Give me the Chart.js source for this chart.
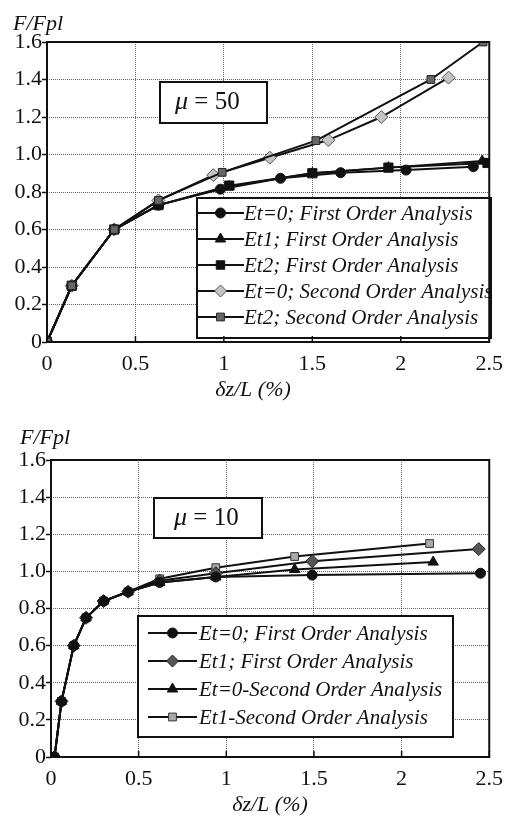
<!DOCTYPE html>
<html>
<head>
<meta charset="utf-8">
<script src="https://cdn.jsdelivr.net/npm/chart.js@4.4.1/dist/chart.umd.min.js"></script>
<style>
  html, body { margin: 0; padding: 0; background: #fff; }
  #wrap { position: relative; width: 512px; height: 817px; }
  canvas { position: absolute; left: 0; }
</style>
</head>
<body>
<div id="wrap">
  <canvas id="chartTop" width="512" height="408" style="top:0"></canvas>
  <canvas id="chartBottom" width="512" height="409" style="top:408px"></canvas>
</div>
<script>
// ---- ticks ----
const xTicks = [0, 0.5, 1, 1.5, 2, 2.5];
const xTickLabels = ['0', '0.5', '1', '1.5', '2', '2.5'];
const yTicks = [0, 0.2, 0.4, 0.6, 0.8, 1.0, 1.2, 1.4, 1.6];
const yTickLabels = ['0', '0.2', '0.4', '0.6', '0.8', '1.0', '1.2', '1.4', '1.6'];

// ---- mu = 50 ----
const mu50Names = [
  'Et=0; First Order Analysis',
  'Et1; First Order Analysis',
  'Et2; First Order Analysis',
  'Et=0; Second Order Analysis',
  'Et2; Second Order Analysis'
];
const mu50Et0FirstX = [0, 0.14, 0.38, 0.63, 0.98, 1.32, 1.66, 2.03, 2.41];
const mu50Et0FirstY = [0, 0.30, 0.60, 0.73, 0.815, 0.873, 0.903, 0.917, 0.935];
const mu50Et1FirstX = [0, 0.14, 0.38, 0.63, 1.03, 1.50, 1.93, 2.46];
const mu50Et1FirstY = [0, 0.30, 0.60, 0.73, 0.83, 0.90, 0.93, 0.965];
const mu50Et2FirstX = [0, 0.14, 0.38, 0.63, 1.03, 1.50, 1.93, 2.49];
const mu50Et2FirstY = [0, 0.30, 0.60, 0.73, 0.834, 0.90, 0.93, 0.955];
const mu50Et0SecondX = [0, 0.14, 0.38, 0.63, 0.94, 1.26, 1.59, 1.89, 2.27];
const mu50Et0SecondY = [0, 0.30, 0.60, 0.755, 0.89, 0.983, 1.077, 1.20, 1.41];
const mu50Et2SecondX = [0, 0.14, 0.38, 0.63, 0.99, 1.52, 2.17, 2.465];
const mu50Et2SecondY = [0, 0.30, 0.60, 0.755, 0.905, 1.074, 1.40, 1.60];

// ---- mu = 10 ----
const mu10Names = [
  'Et=0; First Order Analysis',
  'Et1; First Order Analysis',
  'Et=0-Second Order Analysis',
  'Et1-Second Order Analysis'
];
const mu10Et0FirstX = [0.02, 0.06, 0.13, 0.20, 0.30, 0.44, 0.62, 0.94, 1.49, 2.45];
const mu10Et0FirstY = [0, 0.30, 0.60, 0.75, 0.84, 0.89, 0.94, 0.97, 0.98, 0.99];
const mu10Et1FirstX = [0.02, 0.06, 0.13, 0.20, 0.30, 0.44, 0.62, 0.94, 1.49, 2.44];
const mu10Et1FirstY = [0, 0.30, 0.60, 0.75, 0.84, 0.89, 0.95, 0.99, 1.055, 1.12];
const mu10Et0SecondX = [0.02, 0.06, 0.13, 0.20, 0.30, 0.44, 0.62, 0.94, 1.39, 2.18];
const mu10Et0SecondY = [0, 0.30, 0.60, 0.75, 0.84, 0.89, 0.94, 0.97, 1.01, 1.05];
const mu10Et1SecondX = [0.02, 0.06, 0.13, 0.20, 0.30, 0.44, 0.62, 0.94, 1.39, 2.16];
const mu10Et1SecondY = [0, 0.30, 0.60, 0.75, 0.84, 0.89, 0.96, 1.02, 1.08, 1.15];

const SERIF = '"Liberation Serif", serif';

const toPoints = (xs, ys) => xs.map((x, i) => ({ x, y: ys[i] }));

const markers = {
  circle:   { pointStyle: 'circle',   radius: 5,   fill: '#111', border: '#111' },
  triangle: { pointStyle: 'triangle', radius: 6,   fill: '#111', border: '#111' },
  square:   { pointStyle: 'rect',     radius: 6.5, fill: '#111', border: '#111' },
  lightDia: { pointStyle: 'rectRot',  radius: 6.5, fill: '#c4c4c4', border: '#555' },
  darkSq:   { pointStyle: 'rect',     radius: 5.5, fill: '#666', border: '#222' },
  darkDia:  { pointStyle: 'rectRot',  radius: 6.5, fill: '#555', border: '#222' },
  lightSq:  { pointStyle: 'rect',     radius: 5.5, fill: '#aaa', border: '#333' }
};

// lower order is drawn on top
function makeDataset(label, xs, ys, m, order) {
  return {
    label,
    data: toPoints(xs, ys),
    order,
    showLine: true,
    borderColor: '#111',
    borderWidth: 2,
    pointStyle: m.pointStyle,
    pointRadius: m.radius,
    pointBackgroundColor: m.fill,
    pointBorderColor: m.border,
    pointBorderWidth: 1,
    tension: 0
  };
}

// draws the frame, inward x ticks, mu box, legend and axis titles
const decorPlugin = {
  id: 'decor',
  afterDatasetsDraw(chart, args, opts) {
    const ctx = chart.ctx;
    const area = chart.chartArea;
    const xs = chart.scales.x;
    ctx.save();

    // mu box
    const mb = opts.muBox;
    ctx.fillStyle = '#fff';
    ctx.fillRect(mb.x, mb.y, mb.w, mb.h);
    ctx.lineWidth = 2;
    ctx.strokeStyle = '#111';
    ctx.strokeRect(mb.x, mb.y, mb.w, mb.h);
    ctx.fillStyle = '#111';
    ctx.textBaseline = 'middle';
    ctx.textAlign = 'left';
    ctx.font = 'italic 26px ' + SERIF;
    ctx.fillText('\u03bc', mb.tx, mb.y + mb.h / 2);
    const muW = ctx.measureText('\u03bc').width;
    ctx.font = '25px ' + SERIF;
    ctx.fillText(' = ' + mb.value, mb.tx + muW, mb.y + mb.h / 2);

    // legend
    const lg = opts.legend;
    ctx.fillStyle = '#fff';
    ctx.fillRect(lg.x, lg.y, lg.w, lg.h);
    ctx.lineWidth = 2;
    ctx.strokeStyle = '#111';
    ctx.strokeRect(lg.x, lg.y, lg.w, lg.h);
    chart.data.datasets.forEach((ds, i) => {
      const y = lg.rowY + i * lg.rowH;
      ctx.lineWidth = 2;
      ctx.strokeStyle = '#111';
      ctx.beginPath();
      ctx.moveTo(lg.lineX1, y);
      ctx.lineTo(lg.lineX2, y);
      ctx.stroke();
      ctx.fillStyle = ds.pointBackgroundColor;
      ctx.strokeStyle = ds.pointBorderColor;
      ctx.lineWidth = 1;
      Chart.helpers.drawPoint(ctx, {
        pointStyle: ds.pointStyle, radius: Math.min(ds.pointRadius, 6), rotation: 0, borderWidth: 1
      }, (lg.lineX1 + lg.lineX2) / 2, y);
      ctx.fillStyle = '#111';
      ctx.font = 'italic ' + lg.font + 'px ' + SERIF;
      ctx.textAlign = 'left';
      ctx.textBaseline = 'middle';
      ctx.fillText(ds.label, lg.textX, y + 1);
    });

    // frame
    ctx.lineWidth = 2;
    ctx.strokeStyle = '#111';
    ctx.strokeRect(area.left, area.top, area.right - area.left, area.bottom - area.top);

    // inward ticks on x axis
    ctx.lineWidth = 1.5;
    xTicks.forEach(v => {
      const px = xs.getPixelForValue(v);
      ctx.beginPath();
      ctx.moveTo(px, area.bottom);
      ctx.lineTo(px, area.bottom - 6);
      ctx.stroke();
    });

    // axis titles
    ctx.fillStyle = '#111';
    ctx.font = 'italic 22px ' + SERIF;
    ctx.textBaseline = 'middle';
    ctx.textAlign = 'left';
    ctx.fillText('F/Fpl', opts.yTitle.x, opts.yTitle.y);
    ctx.textAlign = 'center';
    ctx.fillText('\u03b4z/L (%)', opts.xTitle.x, opts.xTitle.y);
    ctx.restore();
  }
};

function makeOptions(cfg) {
  return {
    responsive: false,
    animation: false,
    events: [],
    layout: { padding: { left: 0, right: 15, top: cfg.top, bottom: 0 } },
    plugins: {
      legend: { display: false },
      tooltip: { enabled: false },
      decor: cfg.decor
    },
    scales: {
      x: {
        type: 'linear',
        min: 0,
        max: 2.5,
        afterBuildTicks: s => { s.ticks = xTicks.map(v => ({ value: v })); },
        afterFit: s => { s.height = cfg.xHeight; },
        ticks: {
          padding: 9,
          color: '#111',
          font: { family: SERIF, size: 22 },
          maxRotation: 0,
          callback: (v, i) => xTickLabels[i]
        },
        grid: { color: 'rgba(0,0,0,0.6)', lineWidth: 1, drawTicks: false },
        border: { display: false, dash: [1, 1] }
      },
      y: {
        type: 'linear',
        min: 0,
        max: 1.6,
        afterBuildTicks: s => { s.ticks = yTicks.map(v => ({ value: v })); },
        afterFit: s => { s.width = cfg.yWidth; },
        ticks: {
          padding: 0,
          color: '#111',
          font: { family: SERIF, size: 22 },
          callback: (v, i) => yTickLabels[i]
        },
        grid: { color: 'rgba(0,0,0,0.6)', lineWidth: 1, tickLength: 5, tickColor: '#111', tickWidth: 1.5 },
        border: { display: false, dash: [1, 1] }
      }
    }
  };
}

new Chart(document.getElementById('chartTop'), {
  type: 'scatter',
  data: {
    datasets: [
      makeDataset(mu50Names[0], mu50Et0FirstX, mu50Et0FirstY, markers.circle, 1),
      makeDataset(mu50Names[1], mu50Et1FirstX, mu50Et1FirstY, markers.triangle, 3),
      makeDataset(mu50Names[2], mu50Et2FirstX, mu50Et2FirstY, markers.square, 2),
      makeDataset(mu50Names[3], mu50Et0SecondX, mu50Et0SecondY, markers.lightDia, 1),
      makeDataset(mu50Names[4], mu50Et2SecondX, mu50Et2SecondY, markers.darkSq, 0)
    ]
  },
  options: makeOptions({
    top: 42, xHeight: 66, yWidth: 47,
    decor: {
      muBox: { x: 160, y: 82, w: 107, h: 41, tx: 175, value: '50' },
      legend: { x: 197, y: 198, w: 294, h: 140, rowY: 213, rowH: 26, lineX1: 197, lineX2: 244, textX: 244, font: 21 },
      yTitle: { x: 13, y: 24 },
      xTitle: { x: 253, y: 390 }
    }
  }),
  plugins: [decorPlugin]
});

new Chart(document.getElementById('chartBottom'), {
  type: 'scatter',
  data: {
    datasets: [
      makeDataset(mu10Names[0], mu10Et0FirstX, mu10Et0FirstY, markers.circle, 0),
      makeDataset(mu10Names[1], mu10Et1FirstX, mu10Et1FirstY, markers.darkDia, 0),
      makeDataset(mu10Names[2], mu10Et0SecondX, mu10Et0SecondY, markers.triangle, 0),
      makeDataset(mu10Names[3], mu10Et1SecondX, mu10Et1SecondY, markers.lightSq, 0)
    ]
  },
  options: makeOptions({
    top: 52, xHeight: 60, yWidth: 51,
    decor: {
      muBox: { x: 154, y: 90, w: 108, h: 40, tx: 174, value: '10' },
      legend: { x: 138, y: 208, w: 315, h: 121, rowY: 225, rowH: 28, lineX1: 148, lineX2: 197, textX: 199, font: 21 },
      yTitle: { x: 20, y: 30 },
      xTitle: { x: 270, y: 397 }
    }
  }),
  plugins: [decorPlugin]
});
</script>
</body>
</html>
